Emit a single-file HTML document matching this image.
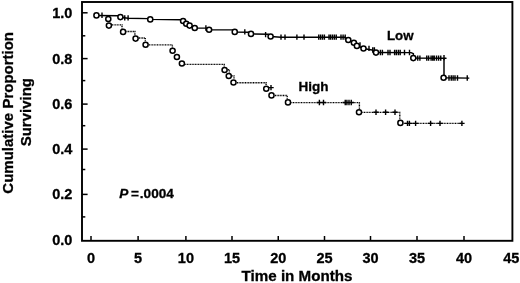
<!DOCTYPE html>
<html><head><meta charset="utf-8"><title>Cumulative Proportion Surviving</title>
<style>html,body{margin:0;padding:0;background:#fff;}body{width:520px;height:283px;overflow:hidden;}svg{display:block;filter:grayscale(1);}text{font-family:"Liberation Sans", sans-serif;font-weight:bold;fill:#000;stroke:#000;stroke-width:0.3px;}</style></head><body>
<svg width="520" height="283" viewBox="0 0 520 283">
<rect x="0" y="0" width="520" height="283" fill="#fff"/>
<rect x="82" y="2" width="430.4" height="238.8" fill="none" stroke="#000" stroke-width="1.9"/>
<g stroke="#000" stroke-width="1.5" fill="none">
<line x1="82" x2="87.6" y1="12.8" y2="12.8"/>
<line x1="82" x2="87.6" y1="58.6" y2="58.6"/>
<line x1="82" x2="87.6" y1="104.1" y2="104.1"/>
<line x1="82" x2="87.6" y1="149.1" y2="149.1"/>
<line x1="82" x2="87.6" y1="194.4" y2="194.4"/>
<line x1="82" x2="85.3" y1="35.8" y2="35.8"/>
<line x1="82" x2="85.3" y1="80.6" y2="80.6"/>
<line x1="82" x2="85.3" y1="125.7" y2="125.7"/>
<line x1="82" x2="85.3" y1="169.5" y2="169.5"/>
<line x1="82" x2="85.3" y1="216.9" y2="216.9"/>
<line x1="91" x2="91" y1="240.7" y2="236"/>
<line x1="138.1" x2="138.1" y1="240.7" y2="236"/>
<line x1="185.9" x2="185.9" y1="240.7" y2="236"/>
<line x1="232" x2="232" y1="240.7" y2="236"/>
<line x1="278.25" x2="278.25" y1="240.7" y2="236"/>
<line x1="324.5" x2="324.5" y1="240.7" y2="236"/>
<line x1="370.5" x2="370.5" y1="240.7" y2="236"/>
<line x1="417" x2="417" y1="240.7" y2="236"/>
<line x1="464" x2="464" y1="240.7" y2="236"/>
</g>
<g font-size="14.5px" text-anchor="end">
<text x="72.3" y="18.1">1.0</text>
<text x="72.3" y="63.7">0.8</text>
<text x="72.3" y="109.2">0.6</text>
<text x="72.3" y="154.1">0.4</text>
<text x="72.3" y="199.4">0.2</text>
<text x="72.3" y="245.2">0.0</text>
</g>
<g font-size="14.5px" text-anchor="middle">
<text x="91" y="262.5">0</text>
<text x="138.1" y="262.5">5</text>
<text x="185.9" y="262.5">10</text>
<text x="232" y="262.5">15</text>
<text x="278.25" y="262.5">20</text>
<text x="324.5" y="262.5">25</text>
<text x="370.5" y="262.5">30</text>
<text x="417" y="262.5">35</text>
<text x="464" y="262.5">40</text>
<text x="511.3" y="262.5">45</text>
</g>
<text x="297" y="280.8" font-size="15.15px" text-anchor="middle">Time in Months</text>
<text transform="translate(13.4,112.8) rotate(-90)" font-size="15px" text-anchor="middle">Cumulative Proportion</text>
<text transform="translate(30.6,112.2) rotate(-90)" font-size="15px" text-anchor="middle">Surviving</text>
<text x="387" y="39.7" font-size="13.3px">Low</text>
<text x="298.6" y="91.2" font-size="13.5px">High</text>
<g font-size="13.6px"><text x="119.3" y="197.5" font-style="italic">P</text><text x="131" y="197.5">=</text><text x="139.8" y="197.5">.0004</text></g>
<g stroke="#000" fill="none" stroke-width="1.35" stroke-dasharray="1 0.6">
<polyline points="112,24.9 122,24.9 122,28.5"/>
<polyline points="126.5,31.5 134.9,31.5 134.9,35.3"/>
<polyline points="139,38 145.3,38 145.3,41.5"/>
<polyline points="149,44.9 172.4,44.9 172.4,47.5"/>
<polyline points="185.3,64.4 224.2,64.4 224.2,66.7"/>
<polyline points="237,82.7 266.1,82.7 266.1,85.5"/>
<polyline points="227.9,69.7 229.4,69.7 229.4,72.8"/>
<polyline points="232.2,75.8 234,75.8 234,79"/>
<polyline points="275,95.5 287.2,95.5 287.2,99"/>
<polyline points="291.4,102.6 359.4,102.6 359.4,108.9"/>
<polyline points="362.4,112.4 399.8,112.4 399.8,119.6"/>
<polyline points="403.8,123.4 463,123.4"/>
</g>
<g stroke="#000" fill="none" stroke-width="1.4">
<path d="M271 84.9V90.3M268.3 87.6H273.7M319.4 99.8V105.2M316.7 102.5H322.1M323.5 99.8V105.2M320.8 102.5H326.2M345.25 99.8V105.2M342.55 102.5H347.95M346.9 99.8V105.2M344.2 102.5H349.6M349 99.8V105.2M346.3 102.5H351.7M351.25 99.8V105.2M348.55 102.5H353.95M376 109.6V115M373.3 112.3H378.7M385.6 109.6V115M382.9 112.3H388.3M395 109.6V115M392.3 112.3H397.7M407.5 120.7V126.1M404.8 123.4H410.2M409.4 120.7V126.1M406.7 123.4H412.1M415.6 120.7V126.1M412.9 123.4H418.3M430.6 120.7V126.1M427.9 123.4H433.3M440 120.7V126.1M437.3 123.4H442.7M461.9 120.7V126.1M459.2 123.4H464.6"/>
</g>
<g stroke="#000" fill="none" stroke-width="1.45" stroke-linejoin="round">
<polyline points="96.45,15.5 118,15.7 120.4,17.3 128,18.2 148,18.6 150.25,19.4 181,19.8 183.1,21 186.25,23.75 189.6,25.6 194.75,28 207,28.1 209.1,29.7 232.5,29.9 234.75,32.1 249,32.2 251,33.9 268.5,34.2 270.6,36.5 281,37.2 345,37.3 348.3,40 353.9,42.8 356.9,45.9 363.5,48.5 372,50 376,52.5 411,52.6 413.4,53.6 413.3,58.1 446,58.2 444,58.2 444,77.75 469.3,78.1"/>
<path d="M102 12.6V18M124.75 15.2V20.6M128.1 15.2V20.6M205.9 25.3V30.7M244.8 29.2V34.6M265.6 31.9V37.3M281 34.4V39.8M285 34.4V39.8M296.9 34.4V39.8M304 34.4V39.8M318.75 34.4V39.8M320.6 34.4V39.8M322.5 34.4V39.8M324.4 34.4V39.8M329 34.4V39.8M330.6 34.4V39.8M332.5 34.4V39.8M334.4 34.4V39.8M336.25 34.4V39.8M341 34.4V39.8M343.1 34.4V39.8M345.2 34.4V39.8M360 42.3V47.7M369 45.7V51.1M372.75 47.3V52.7M374.4 47.3V52.7M380.4 49.8V55.2M382.4 49.8V55.2M388 49.8V55.2M390 49.8V55.2M394.6 49.8V55.2M396.4 49.8V55.2M398.4 49.8V55.2M400.2 49.8V55.2M404.5 49.8V55.2M409.5 49.8V55.2M417.75 55.4V60.8M419.9 55.4V60.8M426.75 55.4V60.8M428.6 55.4V60.8M431.1 55.4V60.8M432.75 55.4V60.8M434.25 55.4V60.8M436.5 55.4V60.8M438.6 55.4V60.8M440.75 55.4V60.8M444 54.9V60.3M449 75.3V80.7M451.25 75.3V80.7M453.1 75.3V80.7M455 75.3V80.7M457.5 75.3V80.7M467.25 75.3V80.7" stroke-width="1.4"/>
</g>
<g stroke="#000" fill="#fff" stroke-width="1.5">
<circle cx="108.3" cy="18.95" r="2.55"/>
<circle cx="108.9" cy="25.6" r="2.55"/>
<circle cx="123.1" cy="31.9" r="2.55"/>
<circle cx="135.6" cy="38.6" r="2.55"/>
<circle cx="145.6" cy="44.75" r="2.55"/>
<circle cx="172.6" cy="50.8" r="2.55"/>
<circle cx="176.9" cy="57" r="2.55"/>
<circle cx="181.9" cy="63.5" r="2.55"/>
<circle cx="224.6" cy="70" r="2.55"/>
<circle cx="228.75" cy="76" r="2.55"/>
<circle cx="233.5" cy="82.5" r="2.55"/>
<circle cx="266.25" cy="88.8" r="2.55"/>
<circle cx="271.5" cy="95.4" r="2.55"/>
<circle cx="288" cy="102.4" r="2.55"/>
<circle cx="359" cy="112.2" r="2.55"/>
<circle cx="400.4" cy="122.9" r="2.55"/>
<circle cx="96.45" cy="15.4" r="2.55"/>
<circle cx="120.4" cy="17.1" r="2.55"/>
<circle cx="150.25" cy="19.4" r="2.55"/>
<circle cx="183.1" cy="21" r="2.55"/>
<circle cx="186.25" cy="23.75" r="2.55"/>
<circle cx="189.6" cy="25.6" r="2.55"/>
<circle cx="194.75" cy="28" r="2.55"/>
<circle cx="209.1" cy="29.75" r="2.55"/>
<circle cx="234.75" cy="31.9" r="2.55"/>
<circle cx="251" cy="33.9" r="2.55"/>
<circle cx="270.6" cy="36.5" r="2.55"/>
<circle cx="348.3" cy="40" r="2.55"/>
<circle cx="353.9" cy="42.8" r="2.55"/>
<circle cx="356.9" cy="45.9" r="2.55"/>
<circle cx="363.5" cy="48.5" r="2.55"/>
<circle cx="376" cy="52.6" r="2.55"/>
<circle cx="413.3" cy="58.1" r="2.55"/>
<circle cx="443.6" cy="77.75" r="2.55"/>
</g>
</svg></body></html>
